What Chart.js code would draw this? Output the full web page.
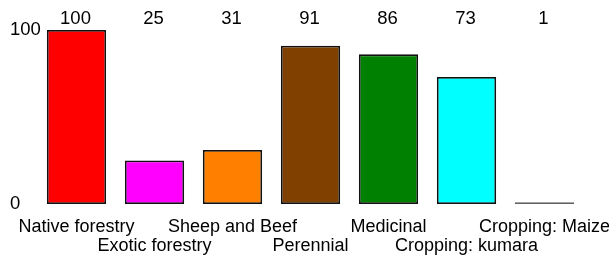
<!DOCTYPE html>
<html>
<head>
<meta charset="utf-8">
<script src="https://cdn.jsdelivr.net/npm/chart.js@4/dist/chart.umd.min.js"></script>
<style>
html,body{margin:0;padding:0;background:#fff;}
#wrap{width:609px;height:262px;position:relative;}
</style>
</head>
<body>
<div id="wrap"><canvas id="c" width="609" height="262"></canvas></div>
<script>
const categories = ["Native forestry","Exotic forestry","Sheep and Beef","Perennial","Medicinal","Cropping: kumara","Cropping: Maize"];
const values = [100, 25, 31, 91, 86, 73, 1];
const barColors = ["#ff0000","#ff00ff","#ff8000","#804000","#008000","#00ffff","#606060"];
const borderColors = ["#111111","#111111","#111111","#111111","#111111","#111111","#606060"];
const yTicks = [0, 100];

const FONT = "'Liberation Sans', Arial, sans-serif";

// staggered labels: even indices on first row, odd on second
const staggered = categories.map((c, i) => i % 2 === 0 ? [c, ""] : ["", c]);

const topValues = {
  id: 'topValues',
  afterDatasetsDraw(chart) {
    const ctx = chart.ctx;
    const xs = chart.scales.x;
    ctx.save();
    ctx.font = "18.5px " + FONT;
    ctx.fillStyle = "#000";
    ctx.textAlign = "center";
    ctx.textBaseline = "middle";
    values.forEach((v, i) => {
      ctx.fillText(String(v), xs.getPixelForValue(i) - 1, 19);
    });
    ctx.restore();
  }
};

new Chart(document.getElementById('c'), {
  type: 'bar',
  data: {
    labels: staggered,
    datasets: [{
      data: values,
      backgroundColor: barColors,
      borderColor: borderColors,
      borderWidth: 1.8,
      borderSkipped: false,
      categoryPercentage: 1,
      barPercentage: 0.76
    }]
  },
  options: {
    responsive: false,
    animation: false,
    devicePixelRatio: 1,
    layout: { padding: { left: 10, right: 25.5, top: 30, bottom: 0 } },
    plugins: { legend: { display: false }, tooltip: { enabled: false } },
    scales: {
      x: {
        grid: { display: false, drawTicks: false },
        border: { display: false },
        ticks: {
          autoSkip: false, maxRotation: 0, minRotation: 0,
          color: "#000", padding: 13,
          font: { family: FONT, size: 18, lineHeight: 1.09 }
        },
        afterFit(s) { s.height = 58; s.paddingLeft = 0; s.paddingRight = 0; }
      },
      y: {
        min: 0, max: 100,
        grid: { display: false, drawTicks: false },
        border: { display: false },
        afterBuildTicks(s) { s.ticks = yTicks.map(v => ({ value: v })); },
        ticks: {
          mirror: true, color: "#000", padding: -27.5,
          font: { family: FONT, size: 18.5 }
        },
        afterFit(s) { s.width = 27.5; s.paddingTop = 0; s.paddingBottom = 0; }
      }
    }
  },
  plugins: [topValues]
});
</script>
</body>
</html>
